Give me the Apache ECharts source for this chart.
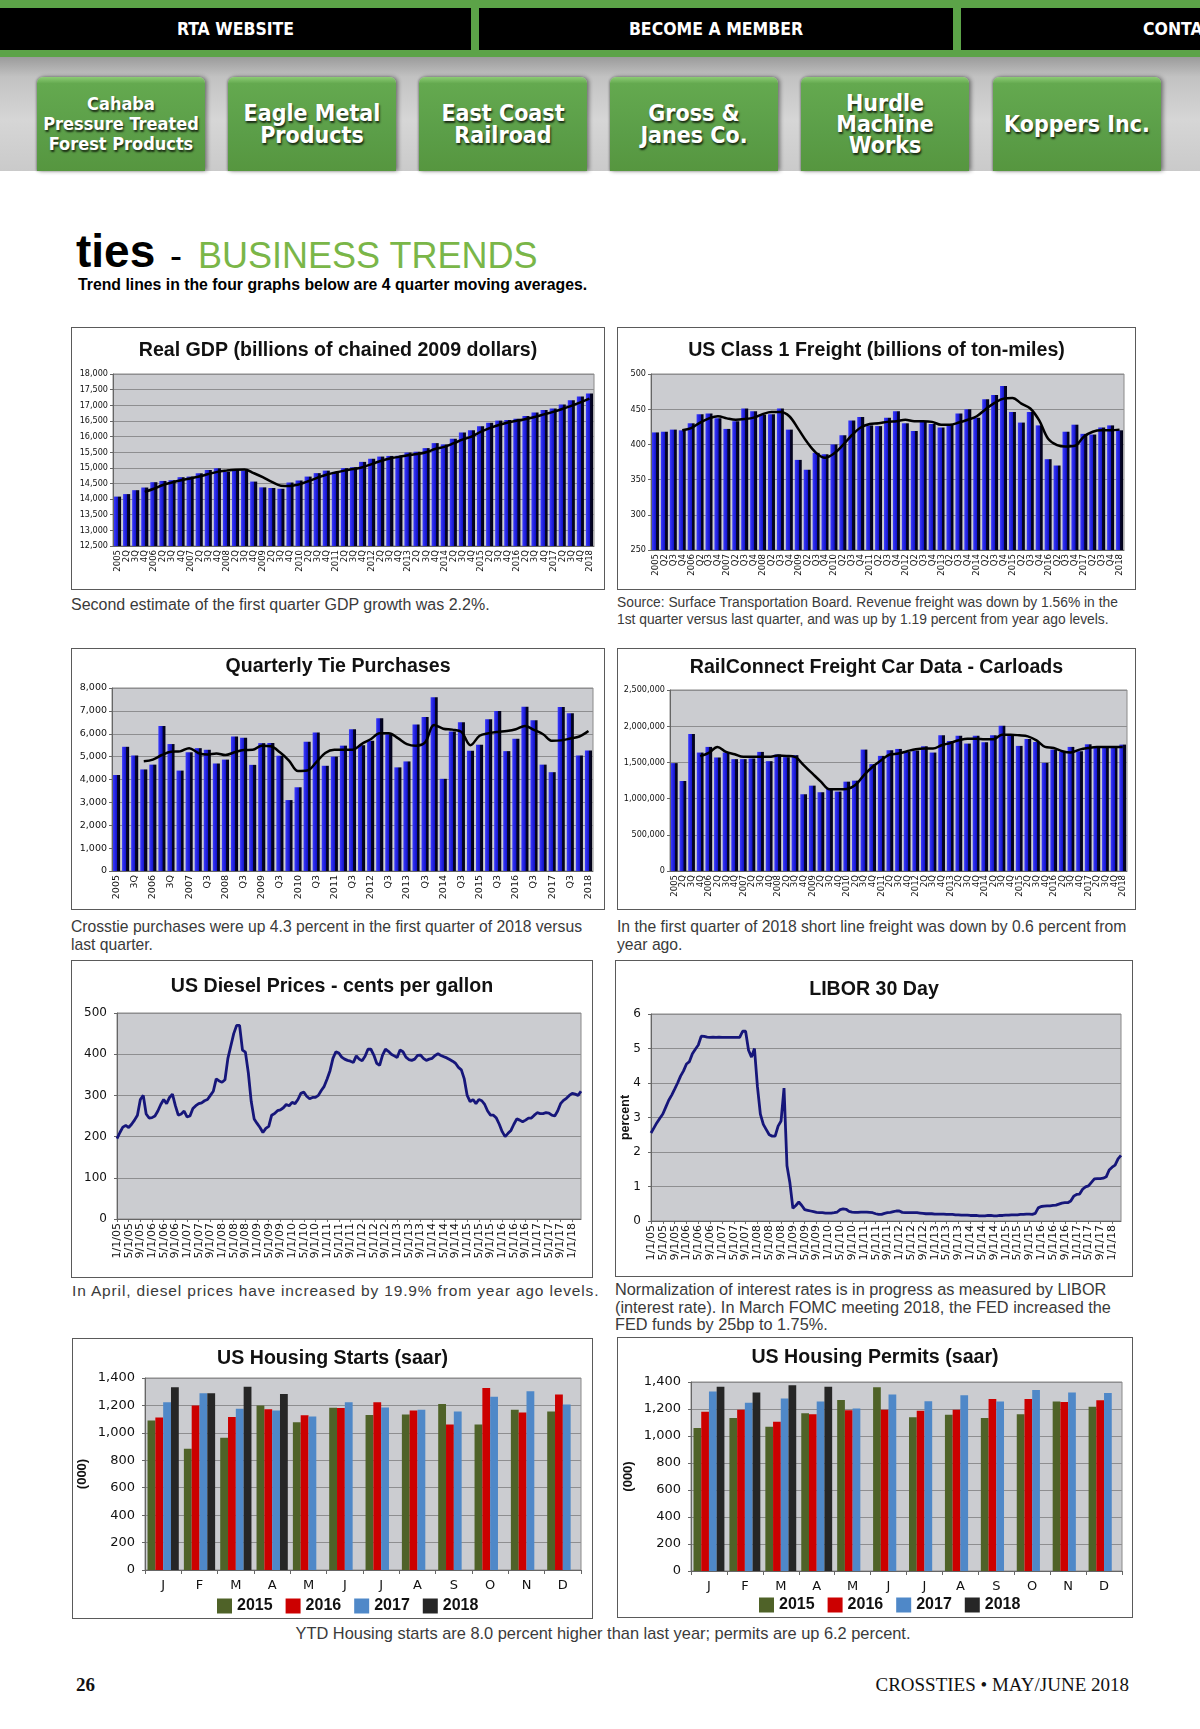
<!DOCTYPE html>
<html>
<head>
<meta charset="utf-8">
<script src="https://cdn.jsdelivr.net/npm/echarts/dist/echarts.min.js"></script>
<style>
  html, body { margin:0; padding:0; }
  body { width:1200px; height:1729px; position:relative; background:#fff; overflow:hidden;
         font-family:'Liberation Sans', Arial, sans-serif; }
  .a { position:absolute; }
  .nav { position:absolute; top:8px; height:42px; background:#000; color:#fff;
         font-family:'DejaVu Sans Condensed',sans-serif; font-weight:bold;
         font-size:17.5px; line-height:42px; text-align:center; overflow:hidden; white-space:nowrap;
         text-shadow:1px 1px 1px rgba(0,0,0,.8); }
  .btn { position:absolute; top:77px; height:94px; width:168px; border-radius:6px 6px 0 0;
         background:linear-gradient(180deg,#8ccc74 0%,#64a94f 7%,#5b9e48 60%,#56963f 100%);
         box-shadow:2px 0 4px rgba(0,0,0,.45), -1px 0 2px rgba(0,0,0,.25);
         display:flex; align-items:center; justify-content:center; text-align:center;
         color:#fff; font-family:'DejaVu Sans Condensed',sans-serif; font-weight:bold; white-space:nowrap;
         font-size:23px; line-height:22px; text-shadow:1px 2px 2px rgba(0,0,0,.75); }
  .box { position:absolute; border:1.5px solid #5a5a5a; box-sizing:border-box; background:#fff; }
  .box > div { position:absolute; left:0; top:0; width:100%; height:100%; }
  .cap { position:absolute; line-height:17.5px; color:#3a3a3a; white-space:nowrap; }
</style>
</head>
<body>
<!-- header -->
<div class="a" style="left:0;top:0;width:1200px;height:171px;background:linear-gradient(180deg,#9a9a9a 33%,#c2c2c2 45%,#d6d6d6 70%,#cacaca 100%);"></div>
<div class="a" style="left:0;top:0;width:1200px;height:57px;background:#5ca348;"></div>
<div class="nav" style="left:0;width:471px;">RTA WEBSITE</div>
<div class="nav" style="left:479px;width:474px;">BECOME A MEMBER</div>
<div class="nav" style="left:961px;width:239px;text-align:left;"><span style="margin-left:182px;">CONTACT US</span></div>
<div class="btn" style="left:37px;font-size:18px;line-height:20px;">Cahaba<br>Pressure Treated<br>Forest Products</div>
<div class="btn" style="left:228px;">Eagle Metal<br>Products</div>
<div class="btn" style="left:419px;">East Coast<br>Railroad</div>
<div class="btn" style="left:610px;">Gross &amp;<br>Janes Co.</div>
<div class="btn" style="left:801px;line-height:21px;">Hurdle<br>Machine<br>Works</div>
<div class="btn" style="left:993px;">Koppers Inc.</div>

<!-- page title -->
<div class="a" style="left:76px;top:228px;font-size:46px;line-height:46px;font-weight:bold;color:#000;white-space:nowrap;">ties</div>
<div class="a" style="left:170px;top:233px;font-size:36px;line-height:46px;color:#000;">-</div>
<div class="a" style="left:198px;top:233px;font-size:36px;line-height:46px;color:#7ab648;white-space:nowrap;">BUSINESS TRENDS</div>
<div class="a" style="left:78px;top:276px;font-size:15.8px;line-height:18px;font-weight:bold;color:#000;white-space:nowrap;">Trend lines in the four graphs below are 4 quarter moving averages.</div>

<!-- chart boxes -->
<div class="box" style="left:71px;top:327px;width:534px;height:263px;"><div id="c1"></div></div>
<div class="box" style="left:617px;top:327px;width:519px;height:263px;"><div id="c2"></div></div>
<div class="box" style="left:71px;top:648px;width:534px;height:262px;"><div id="c3"></div></div>
<div class="box" style="left:617px;top:648px;width:519px;height:262px;"><div id="c4"></div></div>
<div class="box" style="left:71px;top:960px;width:522px;height:318px;"><div id="c5"></div></div>
<div class="box" style="left:615px;top:960px;width:518px;height:317px;"><div id="c6"></div></div>
<div class="box" style="left:72px;top:1338px;width:521px;height:281px;"><div id="c7"></div></div>
<div class="box" style="left:617px;top:1337px;width:516px;height:281px;"><div id="c8"></div></div>

<!-- captions -->
<div class="cap" style="left:71px;top:596px;font-size:16px;">Second estimate of the first quarter GDP growth was 2.2%.</div>
<div class="cap" style="left:617px;top:594px;font-size:13.8px;line-height:17px;">Source: Surface Transportation Board. Revenue freight was down by 1.56% in the<br>1st quarter versus last quarter, and was up by 1.19 percent from year ago levels.</div>
<div class="cap" style="left:71px;top:918px;font-size:15.7px;">Crosstie purchases were up 4.3 percent in the first quarter of 2018 versus<br>last quarter.</div>
<div class="cap" style="left:617px;top:918px;font-size:15.7px;">In the first quarter of 2018 short line freight was down by 0.6 percent from<br>year ago.</div>
<div class="cap" style="left:72px;top:1282px;font-size:15.5px;letter-spacing:0.85px;">In April, diesel prices have increased by 19.9% from year ago levels.</div>
<div class="cap" style="left:615px;top:1281px;font-size:16.3px;">Normalization of interest rates is in progress as measured by LIBOR<br>(interest rate). In March FOMC meeting 2018, the FED increased the<br>FED funds by 25bp to 1.75%.</div>
<div class="cap" style="left:0;width:1206px;text-align:center;top:1625px;font-size:16.4px;">YTD Housing starts are 8.0 percent higher than last year; permits are up 6.2 percent.</div>

<!-- footer -->
<div class="a" style="left:76px;top:1674px;font-family:'Liberation Serif',serif;font-weight:bold;font-size:19px;line-height:22px;color:#111;">26</div>
<div class="a" style="right:71px;top:1674px;font-family:'Liberation Serif',serif;font-size:19px;line-height:22px;color:#111;white-space:nowrap;">CROSSTIES • MAY/JUNE 2018</div>

<script>
// ---------------- DATA ----------------
const gdpLabels = ['2005','2Q','3Q','4Q','2006','2Q','3Q','4Q','2007','2Q','3Q','4Q','2008','2Q','3Q','4Q','2009','2Q','3Q','4Q','2010','2Q','3Q','4Q','2011','2Q','3Q','4Q','2012','2Q','3Q','4Q','2013','2Q','3Q','4Q','2014','2Q','3Q','4Q','2015','2Q','3Q','4Q','2016','2Q','3Q','4Q','2017','2Q','3Q','4Q','2018'];
const gdpValues = [14080,14160,14285,14370, 14540,14580,14605,14700, 14720,14825,14930,14985, 14870,14955,14910,14560, 14375,14355,14330,14530, 14595,14720,14830,14910, 14870,14990,15020,15190, 15290,15360,15380,15385, 15490,15515,15630,15790, 15750,15930,16130,16200, 16330,16440,16510,16530, 16570,16660,16770,16850, 16900,17025,17160,17280, 17375];
const gdpTrend = [null,null,null,14230, 14330,14450,14530,14600, 14660,14720,14800,14870, 14910,14940,14950,14830, 14700,14550,14430,14420, 14470,14570,14680,14780, 14850,14910,14960,15020, 15120,15220,15300,15350, 15400,15440,15500,15600, 15670,15780,15900,16000, 16150,16270,16370,16450, 16510,16560,16630,16710, 16790,16880,16980,17090, 17210];

const freightLabels = ['2005','Q2','Q3','Q4','2006','Q2','Q3','Q4','2007','Q2','Q3','Q4','2008','Q2','Q3','Q4','2009','Q2','Q3','Q4','2010','Q2','Q3','Q4','2011','Q2','Q3','Q4','2012','Q2','Q3','Q4','2013','Q2','Q3','Q4','2014','Q2','Q3','Q4','2015','Q2','Q3','Q4','2016','Q2','Q3','Q4','2017','Q2','Q3','Q4','2018'];
const freightValues = [417,418,421,420, 430,443,444,437, 422,433,451,447, 442,443,451,421, 378,364,388,386, 400,413,434,439, 427,426,438,447, 430,419,433,429, 424,428,444,450, 438,464,470,483, 446,431,446,427, 379,370,418,428, 415,414,424,427, 420];
const freightTrend = [null,null,null,420, 423,431,437,440, 437,435,436,438, 443,446,446,440, 422,403,388,381, 387,399,413,424, 429,430,432,433, 435,433,433,432, 428,428,431,435, 440,450,459,465, 466,458,451,434, 408,399,397,398, 411,418,420,420, 421];

const tieLabels = ['2005','2Q','3Q','4Q','2006','2Q','3Q','4Q','2007','Q2','Q3','Q4','2008','Q2','Q3','Q4','2009','Q2','Q3','Q4','2010','Q2','Q3','Q4','2011','Q2','Q3','Q4','2012','Q2','Q3','Q4','2013','Q2','Q3','Q4','2014','Q2','Q3','Q4','2015','Q2','Q3','Q4','2016','Q2','Q3','Q4','2017','Q2','Q3','Q4','2018'];
const tieValues = [4200,5430,5050,4440, 4650,6340,5550,4390, 5190,5370,5300,4700, 4870,5880,5820,4640, 5590,5600,5040,3100, 3660,5650,6050,4600, 5000,5480,6200,5500, 5690,6680,5980,4530, 4790,6400,6730,7600, 4030,6100,6500,5260, 5520,6630,7000,5240, 5780,7180,6590,4650, 4320,7170,6900,5050, 5270];
const tieTrend = [null,null,null,4800, 4870,5070,5210,5230, 5370,5160,5090,5140, 5070,5190,5290,5300, 5480,5450,5190,4830, 4370,4390,4750,5160, 5300,5300,5300,5550, 5760,6020,6020,5810, 5550,5480,5620,6380, 6220,6180,6080,5500, 5910,6020,6080,6120, 6200,6340,6170,5980, 5690,5710,5790,5880, 6120];

const carLabels = gdpLabels;
const carValues = [1490000,1243000,1892000,1636000, 1714000,1568000,1636000,1545000, 1545000,1554000,1645000,1517000, 1609000,1572000,1600000,1060000, 1179000,1088000,1134000,1097000, 1234000,1248000,1677000,1476000, 1590000,1668000,1686000,1645000, 1663000,1723000,1636000,1874000, 1796000,1869000,1760000,1869000, 1778000,1874000,2006000,1864000, 1728000,1824000,1782000,1494000, 1677000,1645000,1714000,1654000, 1750000,1705000,1705000,1705000, 1746000];
const carTrend = [null,null,null,1586000, 1632000,1714000,1645000,1613000, 1577000,1577000,1577000,1577000, 1595000,1590000,1577000,1462000, 1348000,1234000,1129000,1129000, 1134000,1188000,1325000,1440000, 1531000,1609000,1622000,1654000, 1682000,1691000,1691000,1737000, 1769000,1805000,1828000,1828000, 1819000,1819000,1883000,1883000, 1874000,1860000,1805000,1714000, 1700000,1654000,1636000,1677000, 1700000,1714000,1714000,1714000, 1714000];

// monthly series, Jan 2005 .. Apr 2018
const monthYears = ['05','06','07','08','09','10','11','12','13','14','15','16','17','18'];
const lastMonthOf2018 = 4;
const dieselValues = [
  195,210,223,227,222,230,240,252,290,300,255,245,
  246,250,262,278,290,280,295,303,275,252,255,262,
  248,250,268,275,280,282,287,290,300,310,340,335,
  332,338,390,420,450,470,470,410,405,355,285,243,
  232,222,210,220,225,252,256,263,265,270,278,275,
  283,280,290,305,308,298,292,295,295,300,312,322,
  340,360,390,406,403,393,388,385,383,380,396,388,
  384,395,412,412,398,378,373,398,412,407,400,396,
  392,410,406,393,387,385,388,397,398,390,385,388,
  390,397,401,397,394,391,387,383,378,368,362,340,
  300,285,290,280,290,287,278,262,252,252,245,230,
  212,200,208,215,230,243,240,236,240,245,245,252,
  258,256,256,258,257,252,250,262,280,288,293,300,
  305,303,300,310];
const liborValues = [
  2.55,2.7,2.85,2.98,3.1,3.3,3.5,3.65,3.82,4.0,4.2,4.35,
  4.55,4.62,4.85,4.98,5.1,5.36,5.35,5.33,5.32,5.33,5.32,5.33,
  5.32,5.32,5.32,5.32,5.32,5.32,5.32,5.5,5.5,4.95,4.75,5.0,
  3.9,3.1,2.8,2.65,2.5,2.46,2.46,2.75,2.9,3.85,1.6,1.1,
  0.37,0.45,0.55,0.45,0.33,0.31,0.29,0.27,0.25,0.24,0.24,0.23,
  0.23,0.23,0.24,0.26,0.33,0.35,0.34,0.28,0.26,0.25,0.25,0.26,
  0.26,0.26,0.25,0.24,0.21,0.19,0.19,0.22,0.24,0.25,0.27,0.29,
  0.29,0.25,0.24,0.24,0.24,0.24,0.24,0.23,0.22,0.21,0.21,0.21,
  0.20,0.20,0.20,0.20,0.19,0.19,0.19,0.18,0.18,0.17,0.17,0.17,
  0.16,0.16,0.16,0.15,0.15,0.15,0.16,0.16,0.15,0.15,0.16,0.16,
  0.17,0.17,0.18,0.18,0.18,0.19,0.19,0.20,0.20,0.19,0.22,0.38,
  0.42,0.43,0.44,0.44,0.45,0.46,0.49,0.52,0.53,0.53,0.58,0.72,
  0.77,0.78,0.92,0.99,1.02,1.12,1.22,1.23,1.23,1.24,1.28,1.48,
  1.56,1.62,1.80,1.90];

const housingMonths = ['J','F','M','A','M','J','J','A','S','O','N','D'];
const housingYears = ['2015','2016','2017','2018'];
const starts2015 = [1090,885,965,1200,1077,1183,1131,1134,1211,1061,1168,1155];
const starts2016 = [1112,1200,1115,1172,1129,1182,1223,1163,1061,1327,1148,1279];
const starts2017 = [1223,1288,1175,1163,1119,1223,1185,1168,1156,1264,1303,1206];
const starts2018 = [1332,1288,1337,1284,null,null,null,null,null,null,null,null];
const permits2015 = [1060,1133,1069,1169,1267,1362,1138,1157,1133,1162,1255,1216];
const permits2016 = [1179,1194,1106,1162,1191,1194,1187,1194,1274,1274,1252,1264];
const permits2017 = [1330,1247,1277,1255,1203,1308,1257,1301,1255,1340,1323,1318];
const permits2018 = [1364,1323,1376,1364,null,null,null,null,null,null,null,null];

// month category labels built from the year list
const monthLabels = [];
monthYears.forEach(function (yy) {
  const n = (yy === '18') ? lastMonthOf2018 : 12;
  for (let m = 1; m <= n; m++) monthLabels.push(m + '/1/' + yy);
});

// ---------------- STYLES ----------------
const plotBg = '#cbccd0';
const gridLineColor = '#8e8e90';
const titleStyle = { fontFamily: 'Liberation Sans', fontWeight: 'bold', fontSize: 19.6, color: '#111' };
const barGrad = new echarts.graphic.LinearGradient(0, 0, 1, 0, [
  { offset: 0, color: '#3a3aff' }, { offset: 0.57, color: '#1414c8' },
  { offset: 0.6, color: '#06062e' }, { offset: 1, color: '#000012' }]);
const fmt = function (v) { return Number(v).toLocaleString('en-US'); };

function makeGrid(g) {
  return { left: g[0], right: g[1], top: g[2], bottom: g[3], show: true, containLabel: false,
           outerBoundsMode: 'none', backgroundColor: plotBg, borderColor: '#8a8a8a', borderWidth: 1 };
}

function quarterOption(c) {
  return {
    animation: false,
    title: { text: c.title, left: 'center', top: c.titleTop, textStyle: titleStyle },
    grid: makeGrid(c.grid),
    xAxis: { type: 'category', data: c.labels,
      axisLine: { lineStyle: { color: '#666' } }, axisTick: { show: false },
      axisLabel: { interval: c.labelInterval || 0, rotate: 90, fontSize: c.xFont, fontFamily: c.xFamily,
                   color: '#111', margin: 4, showMinLabel: true, showMaxLabel: true } },
    yAxis: { type: 'value', min: c.min, max: c.max, interval: c.interval,
      axisLine: { show: true, lineStyle: { color: '#666' } },
      axisTick: { show: true, length: 3, lineStyle: { color: '#666' } },
      splitLine: { lineStyle: { color: gridLineColor, width: 1 } },
      axisLabel: { fontSize: c.yFont, fontFamily: c.yFamily, color: '#111', margin: 5, formatter: fmt } },
    series: [
      { type: 'bar', data: c.values, barCategoryGap: '22%', itemStyle: { color: barGrad } },
      { type: 'line', data: c.trend, smooth: 0.35, symbol: 'none', z: 5,
        lineStyle: { color: '#000', width: 2.5 } }
    ]
  };
}

function monthlyOption(c) {
  return {
    animation: false,
    title: { text: c.title, left: 'center', top: c.titleTop, textStyle: titleStyle },
    grid: makeGrid(c.grid),
    xAxis: { type: 'category', boundaryGap: false, data: monthLabels,
      axisLine: { lineStyle: { color: '#666' } },
      axisTick: { show: true, interval: 3, length: 3, lineStyle: { color: '#666' } },
      axisLabel: { interval: 3, rotate: 90, fontSize: 11, fontFamily: 'DejaVu Sans', color: '#111', margin: 4,
                   showMinLabel: true, hideOverlap: false } },
    yAxis: { type: 'value', min: c.min, max: c.max, interval: c.interval,
      name: c.yName || '', nameLocation: 'middle', nameRotate: 90, nameGap: c.nameGap || 30,
      nameMoveOverlap: false,
      nameTextStyle: { fontFamily: 'Liberation Sans', fontWeight: 'bold', fontSize: 12.5, color: '#111' },
      axisLine: { show: true, lineStyle: { color: '#666' } },
      axisTick: { show: true, length: 3, lineStyle: { color: '#666' } },
      splitLine: { lineStyle: { color: gridLineColor, width: 1 } },
      axisLabel: { fontSize: 12, fontFamily: 'DejaVu Sans', color: '#111', margin: c.labelMargin || 8 } },
    series: [{ type: 'line', data: c.values, symbol: 'none', lineStyle: { color: '#16167a', width: 2.8 } }]
  };
}

const housingColors = ['#4f6228', '#cc0000', '#4f88c8', '#262626'];
function housingOption(c) {
  return {
    animation: false,
    title: { text: c.title, left: 'center', top: c.titleTop, textStyle: titleStyle },
    grid: makeGrid(c.grid),
    legend: { bottom: 4, padding: 0, left: c.legendLeft, icon: 'rect', itemWidth: 15, itemHeight: 15, itemGap: 13,
      data: housingYears,
      textStyle: { fontFamily: 'Liberation Sans', fontWeight: 'bold', fontSize: 16, color: '#111' } },
    xAxis: { type: 'category', data: housingMonths,
      axisLine: { lineStyle: { color: '#666' } },
      axisTick: { show: true, length: 4, lineStyle: { color: '#666' } },
      axisLabel: { interval: 0, fontSize: 13, fontFamily: 'DejaVu Sans', color: '#111', margin: 9 } },
    yAxis: { type: 'value', min: 0, max: 1400, interval: 200,
      name: '(000)', nameLocation: 'middle', nameRotate: 90, nameGap: 56, nameMoveOverlap: false,
      nameTextStyle: { fontFamily: 'Liberation Sans', fontWeight: 'bold', fontSize: 13, color: '#111' },
      axisLine: { show: true, lineStyle: { color: '#666' } },
      axisTick: { show: true, length: 3, lineStyle: { color: '#666' } },
      splitLine: { lineStyle: { color: gridLineColor, width: 1 } },
      axisLabel: { fontSize: 13, fontFamily: 'DejaVu Sans', color: '#111', margin: 10, formatter: fmt } },
    series: c.series.map(function (d, i) {
      return { type: 'bar', name: housingYears[i], data: d, barGap: '0%', barCategoryGap: '14%',
               itemStyle: { color: housingColors[i] } };
    })
  };
}

function mount(id, option) {
  const chart = echarts.init(document.getElementById(id), null, { renderer: 'canvas' });
  chart.setOption(option);
}

mount('c1', quarterOption({ title: 'Real GDP (billions of chained 2009 dollars)', titleTop: 8,
  grid: [41, 10, 46, 43], labels: gdpLabels, values: gdpValues, trend: gdpTrend,
  min: 12500, max: 18000, interval: 500, xFont: 9.5, xFamily: 'DejaVu Sans Condensed',
  yFont: 9, yFamily: 'DejaVu Sans Condensed' }));
mount('c2', quarterOption({ title: 'US Class 1 Freight (billions of ton-miles)', titleTop: 8,
  grid: [33, 11, 46, 39], labels: freightLabels, values: freightValues, trend: freightTrend,
  min: 250, max: 500, interval: 50, xFont: 9.5, xFamily: 'DejaVu Sans Condensed',
  yFont: 9, yFamily: 'DejaVu Sans Condensed' }));
mount('c3', quarterOption({ title: 'Quarterly Tie Purchases', titleTop: 3,
  grid: [40, 11, 39, 38], labels: tieLabels, values: tieValues, trend: tieTrend, labelInterval: 1,
  min: 0, max: 8000, interval: 1000, xFont: 9.5, xFamily: 'DejaVu Sans',
  yFont: 9.5, yFamily: 'DejaVu Sans' }));
mount('c4', quarterOption({ title: 'RailConnect Freight Car Data - Carloads', titleTop: 4,
  grid: [52, 8, 41, 38], labels: carLabels, values: carValues, trend: carTrend,
  min: 0, max: 2500000, interval: 500000, xFont: 9.5, xFamily: 'DejaVu Sans Condensed',
  yFont: 9, yFamily: 'DejaVu Sans Condensed' }));
mount('c5', monthlyOption({ title: 'US Diesel Prices - cents per gallon', titleTop: 11,
  grid: [45, 11, 52, 58], values: dieselValues, min: 0, max: 500, interval: 100, labelMargin: 10 }));
mount('c6', monthlyOption({ title: 'LIBOR 30 Day', titleTop: 14,
  grid: [35, 11, 53, 55], values: liborValues, min: 0, max: 6, interval: 1,
  yName: 'percent', nameGap: 19, labelMargin: 10 }));
mount('c7', housingOption({ title: 'US Housing Starts (saar)', titleTop: 5, legendLeft: 144,
  grid: [72, 11, 39, 48], series: [starts2015, starts2016, starts2017, starts2018] }));
mount('c8', housingOption({ title: 'US Housing Permits (saar)', titleTop: 5, legendLeft: 141,
  grid: [73, 10, 44, 46], series: [permits2015, permits2016, permits2017, permits2018] }));
</script>
</body>
</html>
